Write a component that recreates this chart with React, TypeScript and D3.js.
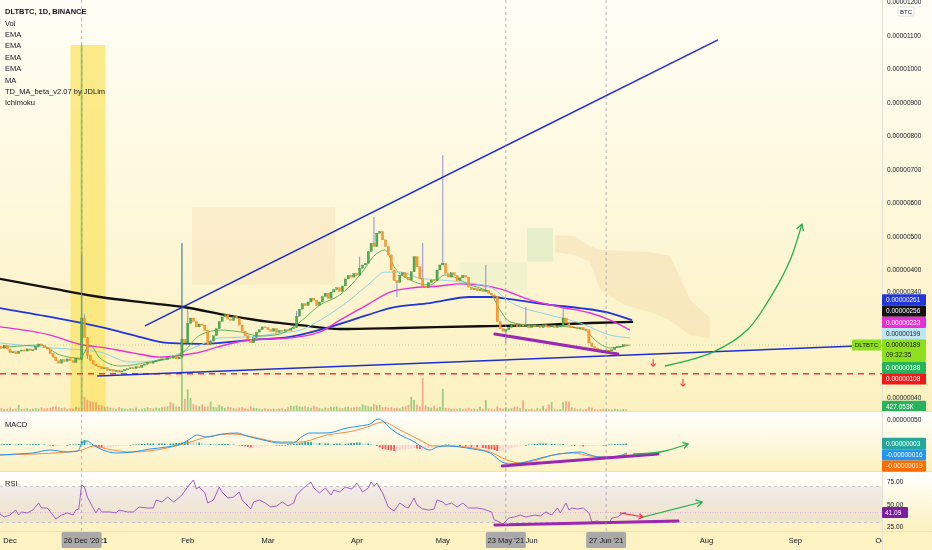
import React from "react";
import * as d3 from "d3";

// ---------- DATA (prices in 1e-8 BTC, days counted from 1 Dec 2020) ----------
const DAY0 = Date.UTC(2020, 11, 1);
const FIRST_DAY = -4;
const FIRST_OPEN = 183;

const closes: number[] = [
  185, 180, 188, 178, 168, 170, 165, 172, 175, 172, 178, 174, 176, 185, 192, 188, 182, 178,
  165, 155, 145, 138, 148, 143, 150, 145, 140, 152, 148, 265, 210, 160, 145, 135, 130,
  128, 122, 125, 118, 120, 115, 118, 113, 116, 120, 122, 125, 123, 128, 126,
  132, 135, 140, 138, 142, 145, 148, 150, 148, 155, 152, 158, 150, 155, 205, 195,
  250, 265, 255, 240, 248, 245, 230, 190, 200, 215, 235,
  255, 268, 275, 262, 258, 270, 265, 245, 228, 215, 205, 195,
  210, 225, 232, 240, 238, 232, 228, 235, 225, 230, 228, 232, 230, 235, 238,
  270, 290, 305, 300, 310, 320, 315,
  300, 310, 325, 335, 320, 338, 345,
  350, 340, 355, 375, 385, 380, 390,
  385, 405, 415, 420, 455, 480, 470,
  510, 515, 490, 470, 445, 400, 370,
  365, 385, 392, 380, 372, 395, 440,
  410, 375, 355, 350, 365, 372, 370,
  400, 415, 420, 390, 380, 392, 385,
  370, 378, 385, 380, 352, 345, 348,
  342, 346, 340, 343, 335, 330, 325,
  255, 235, 228, 232, 238, 248, 245,
  240, 246, 242, 244, 238, 245, 240,
  243, 238, 246, 242, 240, 245, 238,
  242, 244, 265, 250, 242, 238, 240,
  236, 238, 234, 232, 195, 185, 180,
  176, 174, 172, 175, 173, 176, 182,
  185, 186, 190, 189,
];

const highs: [number, number][] = [
  [25, 445], [26, 275], [60, 481], [62, 290], [100, 285], [122, 440], [127, 558],
  [132, 470], [144, 481], [151, 743], [166, 415], [180, 296], [193, 296],
];
const lows: [number, number][] = [[27, 150], [135, 324], [173, 195]];

// volume in millions
const volumes: number[] = [
  0.4, 0.6, 0.4, 0.5, 0.7, 0.4, 0.5, 1.3, 0.4, 0.5, 0.6, 0.4, 0.5,
  0.6, 0.5, 0.8, 0.5, 0.6,
  0.7, 0.9, 1.0, 0.8, 0.6, 0.7, 0.5, 0.6,
  0.5, 0.9, 0.7,
  78, 3.0, 2.4, 2.1,
  2.0, 1.9, 1.3, 1.2, 0.9, 1.0, 0.7,
  0.6, 0.5, 0.8, 0.6, 0.5, 0.4,
  0.6, 0.5, 0.7, 0.4, 0.5, 0.6, 0.8, 0.6, 0.5,
  0.7, 0.6, 0.8, 0.9, 1.0, 1.9, 1.6, 1.0, 0.9,
  35.7, 2.6, 4.6, 2.8, 1.5, 1.2, 1.0, 1.4, 0.9,
  1.0, 2.0, 0.9, 0.8, 1.3, 1.0, 0.7, 0.9, 0.8, 0.6, 0.5,
  0.7, 0.8, 0.6, 0.5, 1.0, 0.7, 0.6, 0.5, 0.4, 0.6, 0.5, 0.4, 0.5,
  0.4, 0.5, 0.6, 0.4, 0.8, 1.1, 1.0,
  1.2, 1.0, 0.9, 1.0, 0.8, 0.7, 1.1, 0.9, 0.6, 0.5, 0.7,
  0.6, 0.9, 0.8, 1.0, 0.7, 0.6, 0.8, 0.9, 0.7, 0.8, 0.9, 0.8, 1.4, 1.2,
  1.0, 0.9, 1.5, 1.2, 1.3, 0.8, 0.9, 0.7,
  0.8, 0.6, 0.7, 0.6, 0.9, 1.0, 1.3, 3.0,
  2.3, 1.4, 1.0, 7.0, 1.2, 0.9, 0.7, 1.1, 0.6, 0.9,
  4.7, 0.7, 0.6, 0.5, 0.5, 0.4, 0.6, 0.4, 0.5, 0.7,
  0.4, 0.5, 0.4, 0.9, 0.5, 2.3, 0.5, 0.5, 0.4, 1.0, 0.6, 0.5,
  0.8, 0.5, 0.6, 0.9, 0.9, 0.6, 2.3, 0.4,
  0.4, 0.5, 0.3, 0.6, 0.5, 1.1, 0.5, 1.4, 1.9, 0.5, 0.3, 0.4,
  1.9, 2.1, 2.0, 0.8, 0.6, 0.4, 0.5, 0.3, 0.4,
  0.9, 0.7, 0.4, 0.3, 0.4, 0.5, 0.3,
  0.4, 0.3, 0.5, 0.4, 0.3, 0.4, 0.43,
];

const macdHist: number[] = [
  1, 1, 2, 2, 2, 1, 1, 2, 2, 1, 1, 1, 2,
  2, 2, 1, 1, 0,
  -1, -2, -2, -2, -1, -1, 0, 1,
  1, 1, 2,
  8, 10, 7, 3,
  -1, -3, -5, -6, -6, -5, -4,
  -3, -3, -2, -2, -1, -1,
  0, 1, 1, 1, 2, 2, 3, 3, 3,
  2, 3, 3, 3, 2, 3, 3, 4, 4,
  5, 6, 8, 7, 6, 5, 5, 4, 3,
  2, 2, 1, 1, 2, 2, 2, 2, 1, 1, 0,
  -1, -2, -3, -4, -5, -5, -4, -3, -3, -2, -2, -1, -1,
  0, 0, -1, 0, 1, 1, 2,
  3, 4, 5, 6, 6, 6, 5, 4, 4, 3, 3,
  3, 2, 2, 3, 3, 2, 2, 3, 4, 4, 5, 5, 4, 3,
  3, 2, 1, -2, -5, -8, -9, -10,
  -11, -12, -11, -10, -9, -9, -8, -7,
  -6, -7, -8, -8, -7, -6, -5, -3, -2, -1,
  0, 1, 1, 0, -1, -1, -2, -2, -3, -3,
  -4, -4, -5, -5, -6, -7, -8, -9, -10, -12, -12, -11,
  -10, -8, -6, -4, -3, -2, -1, 0,
  1, 1, 2, 2, 3, 3, 3, 2, 2, 2, 1, 1,
  2, 1, 0, -1, -2, -2, -2, -3, -3,
  -3, -2, -2, -1, -1, 0, 0,
  1, 1, 2, 2, 2, 2, 3,
];

const ma200: [number, number][] = [
  [-3.5, 375], [14, 349], [31.4, 324], [48.8, 307], [60.4, 296], [76.8, 271], [90.7, 254],
  [101.2, 245], [115.1, 234], [136.1, 237], [164, 242], [184.9, 245], [202.4, 251], [217.4, 254],
];
const emaBlue: [number, number][] = [
  [-3.5, 293], [14, 268], [31.4, 240], [42.9, 217], [54.8, 195], [66.3, 192], [83.7, 203],
  [97.7, 212], [111.7, 240], [124.6, 273], [132.6, 293], [146.5, 307], [160.5, 324],
  [167.5, 324], [174.5, 318], [188.4, 302], [198.9, 293], [209.4, 279], [217, 259],
];
const emaMagenta: [number, number][] = [
  [-3.5, 240], [14, 217], [25.5, 189], [31.4, 183], [42.9, 167], [52.3, 155], [60.4, 161],
  [66.3, 169], [72.2, 183], [83.7, 203], [97.7, 209], [108.2, 226], [115.1, 259], [124.6, 302],
  [132.6, 338], [139.6, 349], [150, 355], [157, 361], [164, 358], [171, 347], [181.4, 316],
  [191.9, 296], [202.4, 279], [209.4, 259], [216.3, 231],
];
const emaCyan: [number, number][] = [
  [-3.5, 195], [14, 181], [25.5, 175], [31.4, 169], [41.9, 141], [52.3, 147], [60.4, 169],
  [66.3, 189], [73.3, 209], [83.7, 212], [94.2, 223], [101.2, 231], [108.2, 259], [118.6, 316],
  [125.6, 363], [130.8, 394], [136.1, 394], [143.1, 377], [150, 372], [160.5, 363], [167.5, 352],
  [174.5, 310], [188.4, 273], [198.9, 251], [209.4, 217], [216.3, 209],
];
const emaGreen: [number, number][] = [
  [-3.5, 181], [10.5, 189], [17.4, 161], [24.4, 152], [27.9, 189], [31.4, 152], [38.4, 130],
  [48.8, 141], [55.8, 152], [60.4, 169], [66.3, 217], [73.3, 231], [80.3, 226], [87.2, 214],
  [94.2, 220], [101.2, 254], [108.2, 302], [115.1, 330], [122.1, 386], [127.4, 445], [130.8, 460],
  [134.3, 406], [139.6, 372], [146.5, 358], [151.8, 386], [160.5, 358], [167.5, 335], [171, 287],
  [174.5, 254], [181.4, 245], [191.9, 242], [200.6, 231], [204.1, 203], [209.4, 181], [216.3, 189],
];

const macdLine: [number, number][] = [
  [-3.5, -20], [2.4, -18], [8, -16], [14, -10], [19.9, -14], [23.7, -12], [25.1, 4], [26.9, 8],
  [29, 0], [32.4, -10], [37.3, -16], [42.9, -14], [48.8, -8], [54.8, -4], [60.4, 4], [62.8, 12],
  [65.2, 20], [68.7, 16], [74, 22], [79.2, 24], [82.7, 18], [88.3, 10], [94.2, 4], [98.7, 4],
  [102.2, 18], [104.7, 24], [110.6, 24], [117.6, 34], [122.1, 38], [125.6, 42], [128.4, 52],
  [130.1, 48], [132.6, 34], [136.1, 20], [140.6, 8], [143.8, -4], [146.5, -10], [149, -4],
  [152.5, -2], [157, -4], [161.5, -8], [167.5, -16], [171.7, -34], [174.5, -38], [178, -36],
  [183.9, -28], [189.5, -20], [194.3, -16], [198.9, -14], [202.4, -20], [205.9, -24],
  [210.4, -24], [215.3, -16],
];
const signalLine: [number, number][] = [
  [-3.5, -20], [8, -18], [19.9, -14], [25.1, -10], [29, -2], [33.8, -8], [42.9, -14], [54.8, -6],
  [61.8, 4], [68.7, 16], [77.8, 22], [84.8, 16], [94.2, 6], [101.2, 6], [110.6, 20], [119.7, 28],
  [124.6, 36], [130.1, 46], [136.1, 30], [143.1, 10], [147.6, -2], [153.5, -2], [161.5, -6],
  [167.5, -14], [173.4, -30], [178, -36], [183.9, -30], [189.5, -20], [196.4, -16], [202.4, -22],
  [208.3, -24], [215.3, -19],
];

const rsiLine: [number, number][] = [
  [-4, 40.6], [-2, 36.1], [0, 38.3], [2, 43.9], [3, 38.3], [4, 41.7], [6, 40.6], [8, 43.9],
  [10, 51.7], [11, 46.1], [13, 46.1], [15, 38.3], [16, 33.9], [18, 38.3], [20, 40.6], [22, 38.3],
  [23, 43.9], [24, 45], [25, 71.7], [26, 69.4], [27, 58.3], [29, 46.1], [30, 40.6], [31, 46.1],
  [32, 41.7], [35, 41.7], [37, 40.6], [38, 43.9], [41, 41.7], [43, 41.7], [45, 47.2], [48, 46.1],
  [50, 46.1], [51, 55], [53, 52.8], [55, 58.3], [57, 52.8], [58, 55], [60, 60.6], [62, 69.4],
  [64, 77.2], [65, 67.2], [66, 69.4], [68, 62.8], [69, 51.7], [71, 55], [73, 69.4], [74, 63.9],
  [76, 57.2], [78, 58.3], [80, 63.9], [81, 55], [84, 45], [85, 52.8], [87, 55], [89, 51.7],
  [91, 47.2], [93, 48.3], [95, 52.8], [97, 48.3], [99, 51.7], [100, 60.6], [102, 67.2], [105, 75],
  [106, 68.3], [108, 62.8], [110, 68.3], [112, 60.6], [113, 66.1], [115, 63.9], [117, 69.4],
  [119, 67.2], [120, 69.4], [121, 73.9], [123, 63.9], [125, 68.3], [126, 75], [127, 70.6],
  [128, 73.9], [130, 62.8], [132, 47.2], [134, 42.8], [136, 51.7], [138, 47.2], [139, 46.1],
  [141, 57.2], [142, 49.4], [144, 45], [146, 43.9], [148, 45], [149, 55], [151, 52.8], [152, 49.4],
  [154, 51.7], [156, 47.2], [158, 51.7], [160, 46.1], [163, 46.1], [165, 45], [168, 41.7],
  [169, 32.8], [170, 31.7], [172, 28.3], [174, 35], [176, 36.1], [178, 38.3], [180, 36.1],
  [183, 38.3], [185, 37.2], [187, 41.7], [189, 38.3], [191, 46.1], [192, 40.6], [194, 51.7],
  [195, 43.9], [196, 46.1], [198, 45], [200, 46.1], [202, 40.6], [203, 30.6], [205, 31.7],
  [207, 29.4], [209, 29.4], [210, 35], [212, 36.1], [214, 40.6], [215, 41.09],
];

// Ichimoku cloud segments: [day, upper, lower]
const cloudBeige: [number, number, number][] = [[63.5, 588, 358], [113.4, 588, 358]];
const cloudFaintLeft: [number, number, number][] = [[-4, 363, 290], [21, 363, 290]];
const cloudFaintMid: [number, number, number][] = [[31, 316, 175], [63.5, 316, 175]];
const cloudGreenLow: [number, number, number][] = [[157, 424, 344], [180.4, 424, 344]];
const cloudGreenHigh: [number, number, number][] = [[180.4, 525, 424], [189.5, 525, 424]];
const cloudOrange: [number, number, number][] = [
  [190.2, 504, 454], [197.1, 501, 445], [202.4, 472, 424], [205.9, 460, 344], [214.6, 457, 301],
  [223.3, 454, 282], [230.3, 442, 259], [237.3, 316, 217], [244.2, 265, 209],
];

// drawings [day, value]
const upperTrend: [number, number][] = [[47.1, 243], [247, 1087]];
const supportTrend: [number, number][] = [[30.4, 102], [304, 189]];
const priceDivergence: [number, number][] = [[169.2, 220], [212.1, 164]];
const macdDivergence: [number, number][] = [[171.7, -42], [226.1, -18]];
const rsiDivergence: [number, number][] = [[169.2, 27.2], [233.1, 31.7]];
const bullCurve: [number, number][] = [[228.5, 130], [245.3, 169], [257.2, 231], [266.2, 335], [272.2, 430], [276.3, 537]];
const macdArrow: [number, number][] = [[217.4, -18], [226.8, -14], [236.6, 2]];
const rsiRedArrow: [number, number][] = [[212.8, 40.6], [220.9, 36.1]];
const rsiGreenArrow: [number, number][] = [[220.9, 36.1], [241.5, 52.8]];
const downMarks: [number, number][] = [[224.4, 138], [234.8, 82]];
const redLevel = 108;
const lastPrice = 189;
const lastRsi = 41.09;

const priceTicks = [1200, 1100, 1000, 900, 800, 700, 600, 500, 400, 340, 40];
const macdTicks = [50];
const rsiTicks = [75, 50, 25];
const legendItems = ["Vol", "EMA", "EMA", "EMA", "EMA", "MA", "TD_MA_beta_v2.07 by JDLim", "Ichimoku"];
const crosshairDays = [25, 173, 208];
const emaLabelValues = [261, 256, 233, 199];
const belowLabelValues = [188, 108];
const macdLabelValues = [3, -16, -19];
const volumeLabel = "427.053K";
const timerText = "09:32:35";

// ---------- LAYOUT ----------
const W = 932, H = 550, AX = 882;
const MAIN_B = 411, MACD_T = 412, MACD_B = 471, RSI_T = 472, RSI_B = 531;
const FONT = "'Liberation Sans', Arial, sans-serif";
const TXT = "#131722";

const dateOf = (d: number) => new Date(DAY0 + d * 86400000);
const x = d3.scaleUtc().domain([dateOf(0), dateOf(304)]).range([10, 881.3]);
const xd = (d: number) => x(dateOf(d));
const y = d3.scaleLinear().domain([40, 400, 1200]).range([398, 270, 2]);
const yVol = d3.scaleLinear().domain([0, 78]).range([MAIN_B, 44.4]);
const yMacd = d3.scaleLinear().domain([-50, 50]).range([470, 420]);
const yRsi = d3.scaleLinear().domain([25, 75]).range([527, 482]);

const fmtPrice = (v: number) => (v * 1e-8).toFixed(8);

function lineOf(pts: [number, number][], ys: (v: number) => number, curve: d3.CurveFactory = d3.curveMonotoneX) {
  return d3.line<[number, number]>().x((p) => xd(p[0])).y((p) => ys(p[1])).curve(curve)(pts) || "";
}
function areaOf(pts: [number, number, number][]) {
  return d3.area<[number, number, number]>().x((p) => xd(p[0])).y0((p) => y(p[2])).y1((p) => y(p[1])).curve(d3.curveLinear)(pts) || "";
}
function chevron(pts: [number, number][], ys: (v: number) => number, size = 7) {
  const a = pts[pts.length - 2], b = pts[pts.length - 1];
  const x1 = xd(a[0]), y1 = ys(a[1]), x2 = xd(b[0]), y2 = ys(b[1]);
  const ang = Math.atan2(y2 - y1, x2 - x1);
  const p = (t: number) => [x2 - size * Math.cos(ang + t), y2 - size * Math.sin(ang + t)];
  const l = p(0.55), r = p(-0.55);
  return `M${l[0]},${l[1]}L${x2},${y2}L${r[0]},${r[1]}`;
}

function Label({ yc, fill, text, color = "#fff", h = 11.3 }: { yc: number; fill: string; text: string; color?: string; h?: number }) {
  return (
    <g>
      <rect x={AX} y={yc - h / 2} width={44} height={h} fill={fill} rx={1} />
      <text x={AX + 4} y={yc + 2.3} fontSize={6.5} fill={color} fontFamily={FONT}>{text}</text>
    </g>
  );
}

export default function App() {
  const candles = closes.map((c, i) => {
    const d = FIRST_DAY + i;
    const o = i === 0 ? FIRST_OPEN : closes[i - 1];
    const hi = highs.find((h) => h[0] === d);
    const lo = lows.find((l) => l[0] === d);
    return { d, o, c, h: hi ? hi[1] : Math.max(o, c), l: lo ? lo[1] : Math.min(o, c), up: c >= o };
  });

  // stacked right-side labels
  const priceY = y(lastPrice);
  const aboveColors = ["#2235d9", "#131313", "#e82fd9", "#bfe6f5"];
  const aboveText = ["#fff", "#fff", "#fff", TXT];
  const aboveY: number[] = [];
  let top = priceY - 5.65;
  for (let i = emaLabelValues.length - 1; i >= 0; i--) {
    const yc = Math.min(y(emaLabelValues[i]), top - 5.65);
    aboveY[i] = yc;
    top = yc - 5.65;
  }
  const belowColors = ["#27b35b", "#f21818"];
  const belowY: number[] = [];
  let bot = priceY - 5.65 + 22.6;
  belowLabelValues.forEach((v, i) => {
    const yc = Math.max(y(v), bot + 5.65);
    belowY[i] = yc;
    bot = yc + 5.65;
  });
  const macdColors = ["#26a69a", "#2196f3", "#ff6d00"];
  const macdY: number[] = [];
  let mb = -Infinity;
  macdLabelValues.forEach((v, i) => {
    const yc = Math.max(yMacd(v), mb + 5.65);
    macdY[i] = yc;
    mb = yc + 5.65;
  });

  const months = d3.utcMonths(dateOf(0), dateOf(305));

  return (
    <svg width={W} height={H} style={{ position: "fixed", left: 0, top: 0 }} fontFamily={FONT}>
      <defs>
        <linearGradient id="gMain" x1="0" y1="0" x2="0" y2="1">
          <stop offset="0" stopColor="#fffef6" />
          <stop offset="1" stopColor="#fcf1bf" />
        </linearGradient>
        <linearGradient id="gPane" x1="0" y1="0" x2="0" y2="1">
          <stop offset="0" stopColor="#ffffff" />
          <stop offset="1" stopColor="#fcf1bf" />
        </linearGradient>
        <clipPath id="cMain"><rect x={0} y={0} width={AX} height={MAIN_B} /></clipPath>
        <clipPath id="cMacd"><rect x={0} y={MACD_T} width={AX} height={MACD_B - MACD_T} /></clipPath>
        <clipPath id="cRsi"><rect x={0} y={RSI_T} width={AX} height={RSI_B - RSI_T} /></clipPath>
        <clipPath id="cTime"><rect x={0} y={RSI_B} width={AX} height={H - RSI_B} /></clipPath>
        <clipPath id="cAxisMain"><rect x={AX} y={0} width={W - AX} height={MAIN_B} /></clipPath>
      </defs>

      {/* backgrounds */}
      <rect x={0} y={0} width={W} height={MAIN_B} fill="url(#gMain)" />
      <rect x={0} y={MACD_T} width={W} height={MACD_B - MACD_T} fill="url(#gPane)" />
      <rect x={0} y={RSI_T} width={W} height={RSI_B - RSI_T} fill="url(#gPane)" />
      <rect x={0} y={RSI_B} width={W} height={H - RSI_B} fill="#fcf2c2" />

      {/* MAIN PANE */}
      <g clipPath="url(#cMain)">
        <path d={areaOf(cloudFaintLeft)} fill="#f3ddb0" opacity={0.15} />
        <path d={areaOf(cloudFaintMid)} fill="#f3ddb0" opacity={0.12} />
        <path d={areaOf(cloudBeige)} fill="#f4dfb4" opacity={0.4} />
        <path d={areaOf(cloudGreenLow)} fill="#d3ebc4" opacity={0.25} />
        <path d={areaOf(cloudGreenHigh)} fill="#cbe6bc" opacity={0.45} />
        <path d={areaOf(cloudOrange)} fill="#f2d6a6" opacity={0.38} />

        <rect x={xd(21.1)} y={45} width={xd(33.3) - xd(21.1)} height={MAIN_B - 45} fill="#fbe56e" opacity={0.8} />

        {candles.map((k, i) => (
          <rect key={"v" + i} x={xd(k.d) - 0.9} width={1.8} y={yVol(volumes[i])} height={MAIN_B - yVol(volumes[i])}
            fill={k.up ? "rgba(76,175,80,0.55)" : "rgba(239,83,80,0.45)"} />
        ))}

        <line x1={0} x2={AX} y1={y(lastPrice)} y2={y(lastPrice)} stroke="#a9cf8a" strokeWidth={0.7} strokeDasharray="1,2" />

        <path d={lineOf(ma200, y)} fill="none" stroke="#111" strokeWidth={2.4} />
        <path d={lineOf(emaBlue, y)} fill="none" stroke="#2235d9" strokeWidth={1.8} />
        <path d={lineOf(emaMagenta, y)} fill="none" stroke="#e82fd9" strokeWidth={1.4} />
        <path d={lineOf(emaCyan, y)} fill="none" stroke="#8fd3e8" strokeWidth={1} />
        <path d={lineOf(emaGreen, y)} fill="none" stroke="#4caf50" strokeWidth={0.9} />

        {candles.map((k, i) => {
          const top = y(Math.max(k.o, k.c)), bt = y(Math.min(k.o, k.c));
          const col = k.up ? "#4caf50" : "#ff9a2e";
          return (
            <g key={"c" + i}>
              {(k.h > Math.max(k.o, k.c) || k.l < Math.min(k.o, k.c)) && (
                <line x1={xd(k.d)} x2={xd(k.d)} y1={y(k.h)} y2={y(k.l)} stroke="#8382cf" strokeWidth={0.9} />
              )}
              <rect x={xd(k.d) - 1.1} width={2.2} y={top} height={Math.max(1, bt - top)} fill={col}
                stroke={k.up ? "#2e7d32" : "#e07800"} strokeWidth={0.3} />
            </g>
          );
        })}

        <line x1={0} x2={AX} y1={y(redLevel)} y2={y(redLevel)} stroke="#f23645" strokeWidth={1.5} strokeDasharray="6,5" />
        <path d={lineOf(upperTrend, y, d3.curveLinear)} fill="none" stroke="#1f2fcf" strokeWidth={1.5} />
        <path d={lineOf(supportTrend, y, d3.curveLinear)} fill="none" stroke="#1f2fcf" strokeWidth={1.5} />
        <path d={lineOf(priceDivergence, y, d3.curveLinear)} fill="none" stroke="#9c27b0" strokeWidth={3} strokeLinecap="round" />
        <path d={lineOf(bullCurve, y, d3.curveCatmullRom)} fill="none" stroke="#22b14c" strokeWidth={1.3} />
        <path d={chevron(bullCurve, y, 7)} fill="none" stroke="#22b14c" strokeWidth={1.3} />
        {downMarks.map((m, i) => (
          <g key={"dm" + i} stroke="#f23645" strokeWidth={1.1} fill="none">
            <line x1={xd(m[0])} x2={xd(m[0])} y1={y(m[1]) - 4} y2={y(m[1]) + 3} />
            <path d={`M${xd(m[0]) - 2.5},${y(m[1]) + 0.5}L${xd(m[0])},${y(m[1]) + 3}L${xd(m[0]) + 2.5},${y(m[1]) + 0.5}`} />
          </g>
        ))}
      </g>

      {/* MACD PANE */}
      <g clipPath="url(#cMacd)">
        {macdHist.map((v, i) => {
          const prev = i > 0 ? macdHist[i - 1] : 0;
          const col = v >= 0 ? (v >= prev ? "#26a69a" : "#b2dfdb") : (v < prev ? "#ff5252" : "#ffcdd2");
          const y0 = yMacd(0), y1 = yMacd(v);
          return <rect key={"h" + i} x={xd(FIRST_DAY + i) - 0.9} width={1.8} y={Math.min(y0, y1)} height={Math.max(0.6, Math.abs(y1 - y0))} fill={col} />;
        })}
        <path d={lineOf(signalLine, yMacd)} fill="none" stroke="#ff8a3d" strokeWidth={1} />
        <path d={lineOf(macdLine, yMacd)} fill="none" stroke="#2196f3" strokeWidth={1} />
        <path d={lineOf(macdDivergence, yMacd, d3.curveLinear)} fill="none" stroke="#9c27b0" strokeWidth={3} strokeLinecap="round" />
        <path d={lineOf(macdArrow, yMacd, d3.curveCatmullRom)} fill="none" stroke="#22b14c" strokeWidth={1.3} />
        <path d={chevron(macdArrow, yMacd, 6)} fill="none" stroke="#22b14c" strokeWidth={1.3} />
      </g>

      {/* RSI PANE */}
      <g clipPath="url(#cRsi)">
        <rect x={0} y={yRsi(70)} width={AX} height={yRsi(30) - yRsi(70)} fill="rgba(126,87,194,0.1)" />
        <line x1={0} x2={AX} y1={yRsi(70)} y2={yRsi(70)} stroke="#b2b5be" strokeWidth={0.7} strokeDasharray="3,3" />
        <line x1={0} x2={AX} y1={yRsi(30)} y2={yRsi(30)} stroke="#b2b5be" strokeWidth={0.7} strokeDasharray="3,3" />
        <line x1={0} x2={AX} y1={yRsi(lastRsi)} y2={yRsi(lastRsi)} stroke="#d9a6dd" strokeWidth={0.8} strokeDasharray="1,1.5" />
        <path d={lineOf(rsiLine, yRsi, d3.curveLinear)} fill="none" stroke="#9b4fc4" strokeWidth={0.9} />
        <path d={lineOf(rsiDivergence, yRsi, d3.curveLinear)} fill="none" stroke="#9c27b0" strokeWidth={3} strokeLinecap="round" />
        <path d={lineOf(rsiRedArrow, yRsi, d3.curveLinear)} fill="none" stroke="#f23645" strokeWidth={1.2} />
        <path d={chevron(rsiRedArrow, yRsi, 5)} fill="none" stroke="#f23645" strokeWidth={1.2} />
        <path d={lineOf(rsiGreenArrow, yRsi, d3.curveLinear)} fill="none" stroke="#22b14c" strokeWidth={1.2} />
        <path d={chevron(rsiGreenArrow, yRsi, 7)} fill="none" stroke="#22b14c" strokeWidth={1.2} />
      </g>

      {/* crosshair verticals */}
      {crosshairDays.map((d) => (
        <line key={"x" + d} x1={xd(d)} x2={xd(d)} y1={0} y2={RSI_B} stroke="#9598a1" strokeWidth={0.7} strokeDasharray="3,3" />
      ))}

      {/* separators */}
      <line x1={0} x2={W} y1={MAIN_B + 0.5} y2={MAIN_B + 0.5} stroke="#e4e2d4" />
      <line x1={0} x2={W} y1={MACD_B + 0.5} y2={MACD_B + 0.5} stroke="#e4e2d4" />
      <line x1={0} x2={W} y1={RSI_B + 0.5} y2={RSI_B + 0.5} stroke="#e4e2d4" />
      <line x1={AX + 0.5} x2={AX + 0.5} y1={0} y2={H} stroke="#e4e2d4" />

      {/* legends */}
      <text x={5} y={13.5} fontSize={7.5} fontWeight="bold" fill={TXT}>DLTBTC, 1D, BINANCE</text>
      {legendItems.map((t, i) => (
        <text key={"l" + i} x={5} y={25.5 + i * 11.4} fontSize={7.5} fill={TXT}>{t}</text>
      ))}
      <text x={5} y={426.5} fontSize={7.5} fill={TXT}>MACD</text>
      <text x={5} y={485.5} fontSize={7.5} fill={TXT}>RSI</text>

      {/* price axis */}
      <g clipPath="url(#cAxisMain)">
        {priceTicks.map((v) => (
          <text key={"p" + v} x={887} y={y(v) + 2.3} fontSize={6.5} fill={TXT}>{fmtPrice(v)}</text>
        ))}
        <rect x={898} y={7} width={16} height={9} fill="#fff" stroke="#c8c8c8" strokeWidth={0.6} rx={1.5} />
        <text x={906} y={13.6} fontSize={6} textAnchor="middle" fill={TXT}>BTC</text>
        {emaLabelValues.map((v, i) => (
          <Label key={"el" + i} yc={aboveY[i]} fill={aboveColors[i]} color={aboveText[i]} text={fmtPrice(v)} />
        ))}
        <rect x={AX} y={priceY - 5.65} width={44} height={22.6} fill="#8ee01e" rx={1} />
        <text x={AX + 4} y={priceY + 2.3} fontSize={6.5} fill={TXT}>{fmtPrice(lastPrice)}</text>
        <text x={AX + 4} y={priceY + 11.5} fontSize={6.5} fill={TXT}>{timerText}</text>
        {belowLabelValues.map((v, i) => (
          <Label key={"bl" + i} yc={belowY[i]} fill={belowColors[i]} text={fmtPrice(v)} />
        ))}
        <Label yc={406.5} fill="#27b35b" text={volumeLabel} />
      </g>
      <rect x={852} y={priceY - 5.5} width={29} height={11} fill="#8ee01e" rx={1} />
      <text x={866.5} y={priceY + 2.3} fontSize={6.2} textAnchor="middle" fill={TXT}>DLTBTC</text>

      {/* macd axis */}
      {macdTicks.map((v) => (
        <text key={"m" + v} x={887} y={yMacd(v) + 2.3} fontSize={6.5} fill={TXT}>{fmtPrice(v)}</text>
      ))}
      {macdLabelValues.map((v, i) => (
        <Label key={"ml" + i} yc={macdY[i]} fill={macdColors[i]} text={fmtPrice(v)} />
      ))}

      {/* rsi axis */}
      {rsiTicks.map((v) => (
        <text key={"r" + v} x={887} y={yRsi(v) + 2.3} fontSize={6.5} fill={TXT}>{v.toFixed(2)}</text>
      ))}
      <rect x={AX} y={yRsi(lastRsi) - 5.5} width={26} height={11} fill="#7b1fa2" rx={1} />
      <text x={AX + 3} y={yRsi(lastRsi) + 2.3} fontSize={6.5} fill="#fff">{lastRsi.toFixed(2)}</text>

      {/* time axis */}
      <g clipPath="url(#cTime)">
        {months.map((m) => {
          const jan = m.getUTCMonth() === 0;
          return (
            <text key={m.toISOString()} x={x(m)} y={543} fontSize={7.5} textAnchor="middle" fill={TXT} fontWeight={jan ? "bold" : "normal"}>
              {jan ? d3.utcFormat("%Y")(m) : d3.utcFormat("%b")(m)}
            </text>
          );
        })}
        {crosshairDays.map((d) => (
          <g key={"cl" + d}>
            <rect x={xd(d) - 20} y={532} width={40} height={16} fill="#a9a9a9" rx={1.5} />
            <text x={xd(d)} y={543} fontSize={7.5} textAnchor="middle" fill="#1a1a1a">{d3.utcFormat("%d %b '%y")(dateOf(d))}</text>
          </g>
        ))}
      </g>
    </svg>
  );
}
